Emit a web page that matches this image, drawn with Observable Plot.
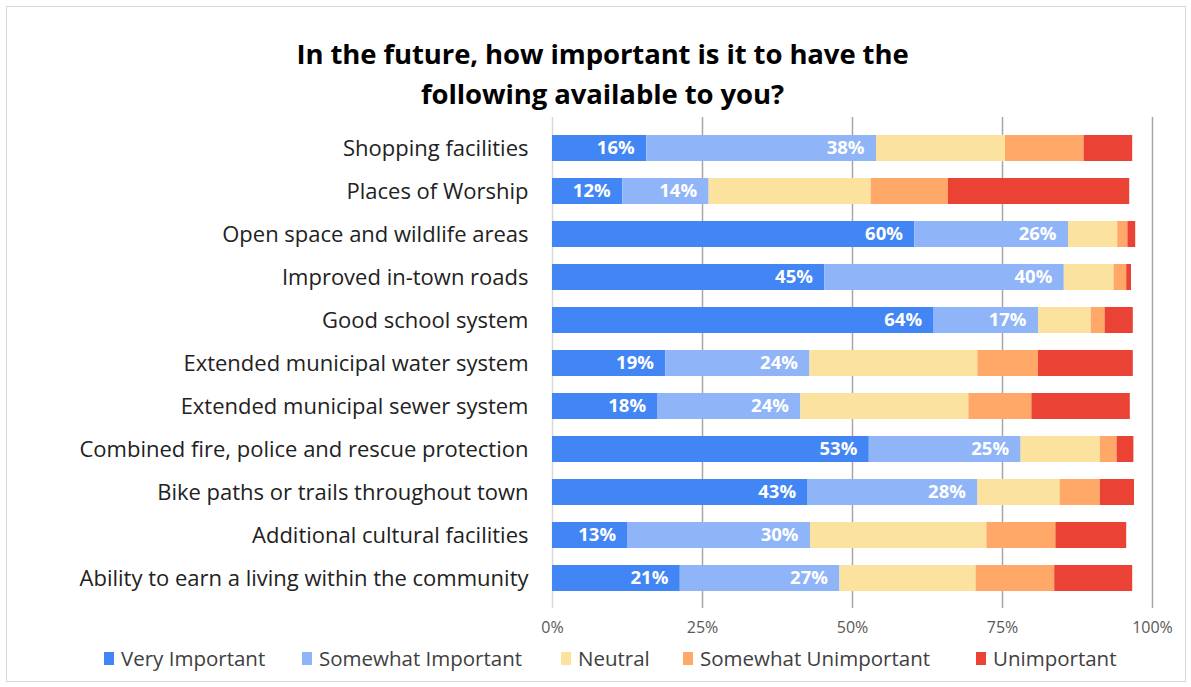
<!DOCTYPE html>
<html><head><meta charset="utf-8">
<script src="https://cdn.jsdelivr.net/npm/d3@7"></script>
<script src="https://cdn.jsdelivr.net/npm/@observablehq/plot@0.6"></script>
<style>
body{margin:0;background:#fff;font-family:"Open Sans",sans-serif;}
#frame{position:absolute;left:6px;top:6px;width:1180px;height:676px;border:1px solid #d9d9d9;box-sizing:border-box;}
#title{position:absolute;left:0;top:34px;width:1205px;text-align:center;font-family:"Open Sans",sans-serif;font-weight:700;font-size:27.5px;line-height:40px;color:#000;letter-spacing:-0.1px;}
#chart{position:absolute;left:0;top:110px;}
#legend{position:absolute;left:0;top:644px;width:1191px;height:28px;font-size:20.5px;color:#404040;}
.li{position:absolute;top:0;display:flex;align-items:center;white-space:nowrap;line-height:28px;}
.sw{width:10px;height:13px;margin-right:7px;display:inline-block;}
</style></head>
<body>
<div id="frame"></div>
<div id="title">In the future, how important is it to have the<br>following available to you?</div>
<div id="chart"></div>
<div id="legend"></div>
<script>
const categories = [
  "Shopping facilities",
  "Places of Worship",
  "Open space and wildlife areas",
  "Improved in-town roads",
  "Good school system",
  "Extended municipal water system",
  "Extended municipal sewer system",
  "Combined fire, police and rescue protection",
  "Bike paths or trails throughout town",
  "Additional cultural facilities",
  "Ability to earn a living within the community"
];
const levels = ["Very Important","Somewhat Important","Neutral","Somewhat Unimportant","Unimportant"];
const colors = ["#4285f4","#8fb5f8","#fbe29f","#ffa868","#ea4335"];
const veryImportant     = [15.7, 11.7, 60.4, 45.4, 63.6, 18.9, 17.6, 52.8, 42.6, 12.6, 21.3];
const somewhatImportant = [38.3, 14.4, 25.6, 39.9, 17.4, 24.0, 23.8, 25.3, 28.3, 30.4, 26.6];
const neutral           = [21.5, 27.0,  8.2,  8.3,  8.8, 28.0, 28.0, 13.2, 13.7, 29.4, 22.7];
const somewhatUnimp     = [13.1, 12.9,  1.7,  2.1,  2.3, 10.1, 10.5,  2.8,  6.7, 11.5, 13.1];
const unimportant       = [ 8.1, 30.2,  1.3,  0.8,  4.7, 15.8, 16.4,  2.8,  5.7, 11.8, 13.0];
const xTicks = [0, 25, 50, 75, 100];

const series = [veryImportant, somewhatImportant, neutral, somewhatUnimp, unimportant];
const data = [];
categories.forEach((c, i) => levels.forEach((l, j) => data.push({item: c, level: l, value: series[j][i]})));
const labelled = new Set(["Very Important","Somewhat Important"]);

const plot = Plot.plot({
  width: 1191,
  height: 545,
  marginLeft: 552,
  marginRight: 39,
  marginTop: 7,
  marginBottom: 47,
  style: {fontFamily: "'Open Sans', sans-serif", color: "#333", background: "transparent"},
  x: {domain: [0, 100], axis: null, label: null},
  y: {domain: categories, padding: 0.4, axis: null, label: null},
  color: {domain: levels, range: colors},
  marks: [
    Plot.ruleX([0], {stroke: "#d9d9d9", strokeWidth: 1.5}),
    Plot.ruleX(xTicks.slice(1), {stroke: "#a6a6a6", strokeWidth: 1.5}),
    Plot.barX(data, Plot.stackX({x: "value", y: "item", fill: "level", z: "level", order: levels})),
    Plot.text(data, Plot.stackX2({x: "value", y: "item", z: "level", order: levels,
      text: d => labelled.has(d.level) ? Math.round(d.value) + "%" : "",
      textAnchor: "end", dx: -12, fill: "white", fontWeight: "bold", fontSize: 18.5})),
    Plot.axisY({tickSize: 0, tickPadding: 24, fontSize: 22, fill: "#222", label: null}),
    Plot.axisX(xTicks, {tickSize: 0, tickPadding: 13, fontSize: 16, fill: "#595959", tickFormat: d => d + "%", label: null})
  ]
});
document.getElementById("chart").appendChild(plot);

const legendX = [104, 302, 561, 683, 976];
const lg = document.getElementById("legend");
levels.forEach((l, i) => {
  const d = document.createElement("div");
  d.className = "li";
  d.style.left = legendX[i] + "px";
  d.innerHTML = `<span class="sw" style="background:${colors[i]}"></span>${l}`;
  lg.appendChild(d);
});
</script>
</body></html>
